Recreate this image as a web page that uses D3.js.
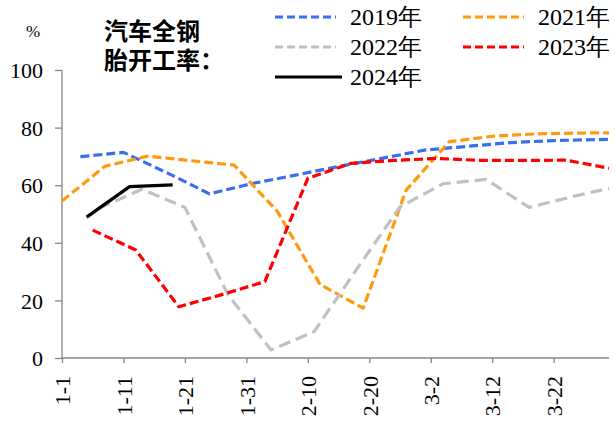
<!DOCTYPE html>
<html>
<head>
<meta charset="utf-8">
<script src="https://cdn.jsdelivr.net/npm/d3@7"></script>
</head>
<body style="margin:0">
<svg id="chart" width="615" height="421" font-family="Times New Roman" style="font-family: 'Times New Roman', serif"></svg>
<script>
// Day offsets counted from 1 January, weekly readings of the all-steel tyre operating rate (%)
const days2019 = [3, 10, 17, 24, 31, 38, 45, 52, 59, 66, 73, 80, 89];
const rate2019 = [69.9, 71.4, 64.4, 57.0, 60.6, 63.5, 66.5, 69.3, 72.2, 73.5, 74.8, 75.5, 75.9];

const days2021 = [0, 7, 14, 21, 28, 35, 42, 49, 56, 63, 70, 77, 84, 89];
const rate2021 = [54.5, 66.6, 70.1, 68.5, 67.0, 51.0, 25.5, 17.3, 58.3, 75.1, 77.0, 77.8, 78.1, 78.2];

const days2022 = [6, 13, 20, 27, 34, 41, 48, 55, 62, 69, 76, 83, 89];
const rate2022 = [52.0, 58.6, 52.3, 22.0, 2.8, 9.1, 31.0, 52.5, 60.5, 62.0, 52.3, 56.0, 58.9];

const days2023 = [5, 12, 19, 26, 33, 40, 47, 54, 61, 68, 75, 82, 89];
const rate2023 = [44.4, 37.5, 17.8, 22.0, 26.5, 62.4, 67.6, 68.6, 69.3, 68.6, 68.6, 68.7, 65.9];

const days2024 = [4, 11, 18];
const rate2024 = [48.9, 59.5, 60.1];

const tickDays = [0, 10, 20, 30, 40, 50, 60, 70, 80];
const tickLabels = ["1-1", "1-11", "1-21", "1-31", "2-10", "2-20", "3-2", "3-12", "3-22"];
const yTicks = [0, 20, 40, 60, 80, 100];

const seriesNames = ["2019年", "2021年", "2022年", "2023年", "2024年"];
const titleLines = ["汽车全钢", "胎开工率："];

const series = [
  { name: seriesNames[0], days: days2019, vals: rate2019, color: "#3a6ef0", dash: "9,4" },
  { name: seriesNames[1], days: days2021, vals: rate2021, color: "#ff9a0e", dash: "9,4" },
  { name: seriesNames[2], days: days2022, vals: rate2022, color: "#c0c0c0", dash: "12,6" },
  { name: seriesNames[3], days: days2023, vals: rate2023, color: "#ff0000", dash: "9,4" },
  { name: seriesNames[4], days: days2024, vals: rate2024, color: "#000000", dash: null }
];

const SERIF = "Times New Roman";
const CJK = "Noto Sans CJK SC";

const svg = d3.select("#chart");

const x = d3.scaleLinear().domain([0, 89]).range([62, 609]);
const y = d3.scaleLinear().domain([0, 100]).range([358, 70]);

const axisColor = "#868686";

// Y axis with ticks on the outside
const yAxis = svg.append("g")
  .attr("transform", `translate(${x(0)},0)`)
  .call(d3.axisLeft(y).tickValues(yTicks).tickSize(7).tickFormat(d3.format("d")));
yAxis.attr("font-family", SERIF).attr("font-size", null);
yAxis.select(".domain").attr("stroke", axisColor).attr("stroke-width", 1.3)
  .attr("d", `M0,${y(100)}V${y(0)}`);
yAxis.selectAll(".tick line").attr("stroke", axisColor).attr("stroke-width", 1.3);
yAxis.selectAll(".tick text")
  .attr("x", -19)
  .attr("dy", "0.35em")
  .attr("fill", "#000")
  .attr("font-family", SERIF)
  .style("font-family", SERIF)
  .style("font-size", "22px");

// X axis with rotated date labels
const xAxis = svg.append("g")
  .attr("transform", `translate(0,${y(0)})`)
  .call(d3.axisBottom(x).tickValues(tickDays).tickSize(5)
    .tickFormat((d, i) => tickLabels[i]));
xAxis.attr("font-family", SERIF).attr("font-size", null);
xAxis.select(".domain").attr("stroke", axisColor).attr("stroke-width", 1.3)
  .attr("d", `M${x(0)},0H${x(89)}`);
xAxis.selectAll(".tick line").attr("stroke", axisColor).attr("stroke-width", 1.3);
xAxis.selectAll(".tick text")
  .attr("y", 0)
  .attr("dy", "0.35em")
  .attr("transform", "translate(0,18) rotate(-90)")
  .attr("text-anchor", "end")
  .attr("fill", "#000")
  .attr("font-family", SERIF)
  .style("font-family", SERIF)
  .style("font-size", "22px");

// Series lines
const line = d3.line()
  .x(d => x(d[0]))
  .y(d => y(d[1]));

series.forEach(s => {
  const pts = s.days.map((d, i) => [d, s.vals[i]]);
  svg.append("path")
    .datum(pts)
    .attr("fill", "none")
    .attr("stroke", s.color)
    .attr("stroke-width", 3.2)
    .attr("stroke-dasharray", s.dash)
    .attr("stroke-linejoin", "round")
    .attr("d", line);
});

// Unit label
svg.append("text")
  .attr("x", 33).attr("y", 37)
  .attr("text-anchor", "middle")
  .attr("font-family", SERIF)
  .style("font-family", SERIF)
  .style("font-size", "17px")
  .text("%");

// Title block
const title = svg.append("text")
  .attr("font-family", CJK)
  .style("font-family", CJK)
  .style("font-size", "24px")
  .style("font-weight", "bold");
title.selectAll("tspan")
  .data(titleLines)
  .join("tspan")
  .attr("x", 104)
  .attr("y", (d, i) => 40 + i * 29)
  .text(d => d);

// Legend, two columns
const legendPos = [
  { lx: 275, ly: 17 },
  { lx: 463, ly: 17 },
  { lx: 275, ly: 47 },
  { lx: 463, ly: 47 },
  { lx: 275, ly: 77 }
];
series.forEach((s, i) => {
  const p = legendPos[i];
  const g = svg.append("g").attr("transform", `translate(${p.lx},${p.ly})`);
  g.append("line")
    .attr("x1", 0).attr("x2", s.dash ? 61 : 67)
    .attr("y1", 0).attr("y2", 0)
    .attr("stroke", s.color)
    .attr("stroke-width", 3.2)
    .attr("stroke-dasharray", s.dash ? "8,4" : null);
  g.append("text")
    .attr("x", 75).attr("y", 8)
    .attr("font-family", SERIF)
    .style("font-family", SERIF)
    .style("font-size", "24px")
    .text(s.name);
});
</script>
</body>
</html>
